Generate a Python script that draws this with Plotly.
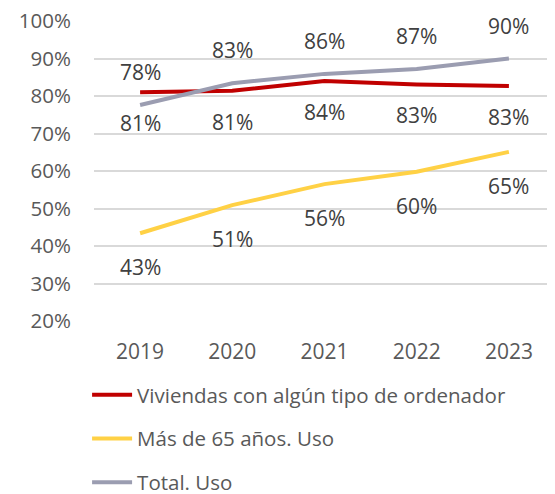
import plotly.graph_objects as go

years = ["2019", "2020", "2021", "2022", "2023"]
viviendas = [81.0, 81.4, 84.0, 83.1, 82.7]
mayores65 = [43.4, 50.9, 56.5, 59.8, 65.1]
total = [77.6, 83.4, 85.9, 87.2, 90.0]

names = ["Viviendas con algún tipo de ordenador", "Más de 65 años. Uso", "Total. Uso"]
colors = ["#C00000", "#FFD145", "#9B9DB1"]
series = [viviendas, mayores65, total]
label_shift = [-31, -34, 33]

FONT = "Open Sans"
xs = list(range(len(years)))
fig = go.Figure()
for i, (nm, col, vals) in enumerate(zip(names, colors, series)):
    fig.add_trace(go.Scatter(x=xs, y=vals, mode="lines", name=nm,
                             legendgroup=str(i),
                             line=dict(color=col, width=4)))

annotations = []
for vals, sh in zip(series, label_shift):
    for x, v in zip(xs, vals):
        annotations.append(dict(x=x, y=v, xref="x", yref="y", text=f"{round(v):d}%",
                                showarrow=False, yshift=sh,
                                font=dict(family=FONT, size=21, color="#404040")))

fig.update_layout(
    width=547, height=486,
    margin=dict(l=86, r=0, t=13, b=173, autoexpand=False),
    paper_bgcolor="white", plot_bgcolor="white",
    font=dict(family=FONT, size=21, color="#595959"),
    showlegend=True,
    legend=dict(orientation="v", x=-0.015, xanchor="left", y=-0.18, yanchor="top",
                font=dict(family=FONT, size=20.5, color="#595959"),
                tracegroupgap=14, itemwidth=40, bgcolor="rgba(0,0,0,0)"),
    annotations=annotations,
)
fig.update_xaxes(range=[-0.5, len(years) - 0.5], tickvals=xs, ticktext=years,
                 showgrid=False, showline=False, zeroline=False, ticks="outside", ticklen=12,
                 tickcolor="rgba(0,0,0,0)", tickfont=dict(size=21, color="#595959"))
fig.update_yaxes(range=[20, 100], dtick=10, ticksuffix="%", showgrid=True, gridcolor="#D9D9D9",
                 gridwidth=1.5, zeroline=False, showline=False, ticks="outside", ticklen=18,
                 ticklabeloverflow="allow",
                 tickcolor="rgba(0,0,0,0)", tickfont=dict(size=20.5, color="#595959"))

fig.write_html("out.html")
